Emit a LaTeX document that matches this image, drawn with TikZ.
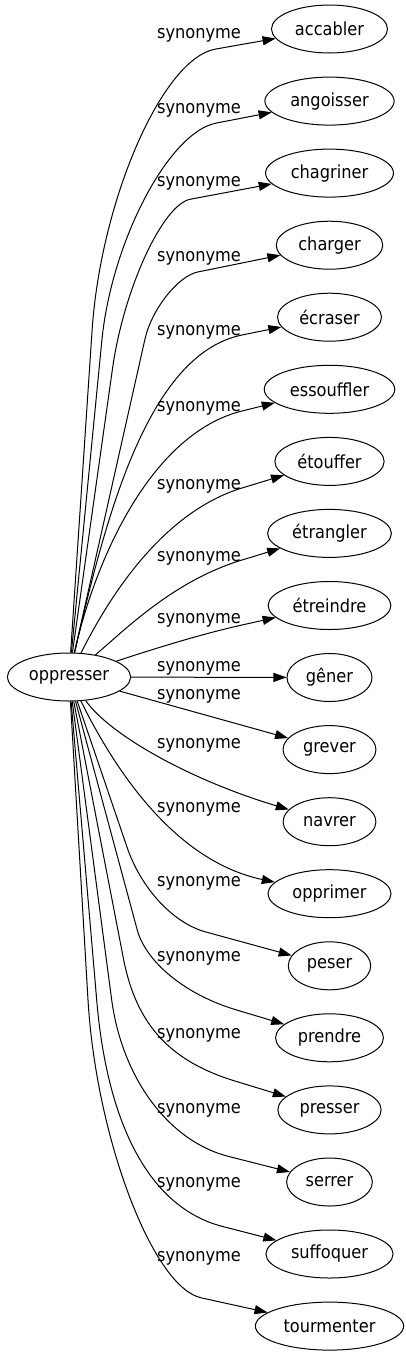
\documentclass[tikz,border=0pt]{standalone}
\usepackage{fontspec}
\setmainfont{DejaVu Sans Condensed}
\usetikzlibrary{arrows.meta,shapes.geometric}
\begin{document}
\begin{tikzpicture}[x=1pt,y=-1pt,
  word/.style={ellipse,draw,line width=1pt,minimum height=48pt,inner xsep=6.5pt,inner ysep=0pt,font=\fontsize{18}{22}\selectfont},
  lbl/.style={anchor=base,inner sep=0pt,font=\fontsize{18}{22}\selectfont},
  syn/.style={draw,line width=1pt,-{Triangle[length=13pt,width=9pt]}}]
\useasboundingbox (0,0) rectangle (406,1355);
\node[word,inner xsep=3.5pt] (opp) at (69,677) {oppresser};
\node[word] (t0) at (329.5,29) {accabler};
\node[word] (t1) at (329.5,101.1) {angoisser};
\node[word] (t2) at (329.5,173.1) {chagriner};
\node[word] (t3) at (329.5,245.2) {charger};
\node[word] (t4) at (329.5,317.2) {écraser};
\node[word] (t5) at (329.5,389.3) {essouffler};
\node[word] (t6) at (329.5,461.4) {étouffer};
\node[word] (t7) at (329.5,533.4) {étrangler};
\node[word] (t8) at (329.5,605.5) {étreindre};
\node[word] (t9) at (329.5,677.5) {gêner};
\node[word] (t10) at (329.5,749.6) {grever};
\node[word] (t11) at (329.5,821.7) {navrer};
\node[word] (t12) at (329.5,893.7) {opprimer};
\node[word] (t13) at (329.5,965.8) {peser};
\node[word] (t14) at (329.5,1037.8) {prendre};
\node[word] (t15) at (329.5,1109.9) {presser};
\node[word] (t16) at (329.5,1182) {serrer};
\node[word] (t17) at (329.5,1254) {suffoquer};
\node[word] (t18) at (329.5,1326.1) {tourmenter};
% labels
\node[lbl] (l0) at (199,38.3) {synonyme};
\node[lbl] (l1) at (199,113) {synonyme};
\node[lbl] (l2) at (199,186.7) {synonyme};
\node[lbl] (l3) at (199,261) {synonyme};
\node[lbl] (l4) at (199,335) {synonyme};
\node[lbl] (l5) at (199,411) {synonyme};
\node[lbl] (l6) at (199,489) {synonyme};
\node[lbl] (l7) at (199,561) {synonyme};
\node[lbl] (l8) at (199,623.3) {synonyme};
\node[lbl] (l9) at (199,671.7) {synonyme};
\node[lbl] (l10) at (199,699) {synonyme};
\node[lbl] (l11) at (199,748.3) {synonyme};
\node[lbl] (l12) at (199,812.7) {synonyme};
\node[lbl] (l13) at (199,886) {synonyme};
\node[lbl] (l14) at (199,961.7) {synonyme};
\node[lbl] (l15) at (199,1038.3) {synonyme};
\node[lbl] (l16) at (199,1113.3) {synonyme};
\node[lbl] (l17) at (199,1187.7) {synonyme};
\node[lbl] (l18) at (199,1261) {synonyme};
% upper edges
\draw[syn] (opp) -- (92.1,330.1) .. controls (101.1,198.9) and (162.7,58.4) .. (215.4,49.1) -- (t0);
\draw[syn] (opp) -- (101.9,340) .. controls (111.8,240.8) and (168.9,132.3) .. (216.1,123.1) -- (t1);
\draw[syn] (opp) -- (112.6,368) .. controls (123.8,288.8) and (162.8,204.4) .. (190.4,199.2) -- (t2);
\draw[syn] (opp) -- (145.1,338.5) .. controls (151.8,309.2) and (178.1,276) .. (197.7,272) -- (t3);
\draw[syn] (opp) .. controls (105,520) and (147,354.3) .. (242,335) -- (t4);
\draw[syn] (opp) .. controls (95,560) and (150.8,433.6) .. (242,411) -- (t5);
\draw[syn] (opp) .. controls (110,595) and (163.5,511.9) .. (242,488) -- (t6);
\draw[syn] (opp) .. controls (125,630) and (173.1,580.9) .. (242,560) -- (t7);
\draw[syn] (opp) .. controls (150,650) and (201,634.1) .. (242,625) -- (t8);
\draw[syn] (opp) -- (t9);
% lower edges
\draw[syn] (opp) -- (t10);
\draw[syn] (opp) .. controls (110,735) and (190,780) .. (t11);
\draw[syn] (opp) .. controls (110,760) and (170,860) .. (t12);
\draw[syn] (opp) -- (128,850) .. controls (142.9,890.5) and (173.9,923.2) .. (205.6,931.9) -- (t13);
\draw[syn] (opp) -- (137.3,930.2) .. controls (146.7,963.1) and (186.3,995) .. (236.4,1009.9) -- (t14);
\draw[syn] (opp) -- (123.7,960) .. controls (136.7,1024.8) and (170,1061.1) .. (234.9,1081) -- (t15);
\draw[syn] (opp) -- (111.7,1000) .. controls (122.4,1078.9) and (169.2,1141.4) .. (228.5,1156.4) -- (t16);
\draw[syn] (opp) -- (96.7,1000) .. controls (107.6,1129) and (152,1208.3) .. (222.4,1226.4) -- (t17);
\draw[syn] (opp) -- (88,1000) .. controls (96.3,1138.3) and (152.8,1287.1) .. (201.1,1297.8) -- (t18);
\end{tikzpicture}
\end{document}
